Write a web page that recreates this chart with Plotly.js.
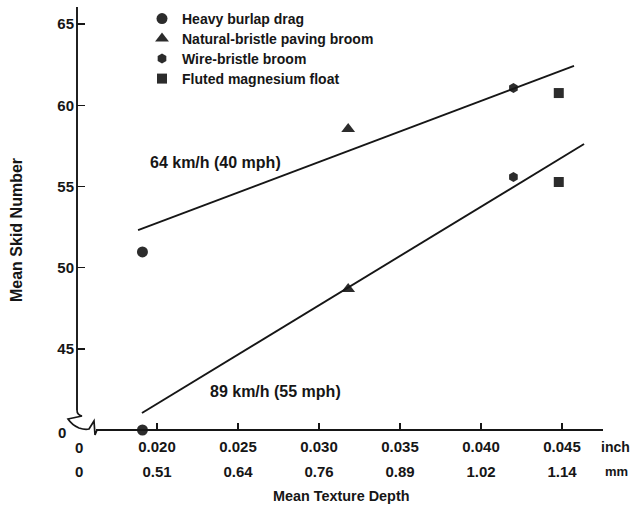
<!DOCTYPE html>
<html>
<head>
<meta charset="utf-8">
<script src="https://cdn.plot.ly/plotly-3.0.1.min.js"></script>
<style>html,body{margin:0;padding:0;background:#fff;}#chart{width:632px;height:510px;}</style>
</head>
<body>
<div id="chart"></div>
<script>
// ---- data ----
const surfaces = ['Heavy burlap drag', 'Natural-bristle paving broom', 'Wire-bristle broom', 'Fluted magnesium float'];
const symbols = ['circle', 'triangle-up', 'hexagon', 'square'];
const depthInch = [0.0191, 0.0318, 0.0420, 0.0448];
const skid64 = [50.97, 58.55, 61.07, 60.76];   // 64 km/h (40 mph)
const skid89 = [40.0, 48.69, 55.59, 55.28];    // 89 km/h (55 mph); 40 = broken-axis "0"
const fit64X = [0.01883, 0.04574], fit64Y = [52.32, 62.43];
const fit89X = [0.01907, 0.04636], fit89Y = [41.05, 57.62];
const inchTicks = [0.020, 0.025, 0.030, 0.035, 0.040, 0.045];
const inchText = ['0.020', '0.025', '0.030', '0.035', '0.040', '0.045'];
const mmText = ['0.51', '0.64', '0.76', '0.89', '1.02', '1.14'];
const skidTicks = [45, 50, 55, 60, 65];
const skidText = ['45', '50', '55', '60', '65'];

const FONT = 'Liberation Sans, Arial, sans-serif';
const INK = '#161616';
const XR = [0.01506, 0.04753], YR = [40, 66];
const M = {l: 77, r: 29, t: 8, b: 10, autoexpand: false};
const W = 632, H = 510;
const plotW = W - M.l - M.r, paperH = H - M.t - M.b;
const yDomBottom = (H - M.b - 430) / paperH;
// pixel -> paper helpers for decorations / placement
function px(p) { return (p - M.l) / plotW; }
function py(p) { return (H - M.b - p) / paperH; }
function path(pts) { return pts.map(p => (p[0] + ' ' + px(p[1]) + ',' + py(p[2]))).join(' '); }

const markerSizes = [11, 12, 10, 10];
const legendRowsPx = [19, 39, 59, 79];
const traces = [];
surfaces.forEach((s, i) => {
  traces.push({
    x: [depthInch[i], depthInch[i]], y: [skid64[i], skid89[i]],
    type: 'scatter', mode: 'markers', name: s, cliponaxis: false,
    legend: i === 0 ? 'legend' : 'legend' + (i + 1),
    marker: {symbol: symbols[i], size: markerSizes[i], color: '#2c2c2c', line: {width: 0}}
  });
});
traces.push({x: fit64X, y: fit64Y, type: 'scatter', mode: 'lines', showlegend: false, line: {color: INK, width: 1.9}, hoverinfo: 'skip'});
traces.push({x: fit89X, y: fit89Y, type: 'scatter', mode: 'lines', showlegend: false, line: {color: INK, width: 1.9}, hoverinfo: 'skip'});
// carrier for the mm tick row
traces.push({x: inchTicks, y: inchTicks.map(() => null), xaxis: 'x2', type: 'scatter', mode: 'markers', showlegend: false, hoverinfo: 'skip'});

const tf = {family: FONT, size: 15, color: INK, weight: 'bold'};
const af = {family: FONT, size: 16, color: INK, weight: 'bold'};
const lf = {family: FONT, size: 14, color: INK, weight: 'bold'};
const layout = {
  width: W, height: H, margin: M, paper_bgcolor: '#fff', plot_bgcolor: '#fff',
  showlegend: true,
  xaxis: {range: XR, anchor: 'y', showline: false, showgrid: false, zeroline: false,
          tickvals: inchTicks, ticktext: inchText, ticks: 'inside', ticklen: 7, tickwidth: 1.6, tickcolor: INK,
          tickfont: tf, ticklabelstandoff: 6},
  xaxis2: {range: XR, overlaying: 'x', anchor: 'free', position: py(460.5), side: 'bottom',
           showline: false, showgrid: false, zeroline: false, tickvals: inchTicks, ticktext: mmText,
           ticks: '', tickfont: tf},
  yaxis: {range: YR, domain: [yDomBottom, 1], showline: false, showgrid: false, zeroline: false,
          tickvals: skidTicks, ticktext: skidText, ticks: 'inside', ticklen: 8, tickwidth: 1.6, tickcolor: INK,
          tickfont: tf, ticklabelstandoff: 2},
  shapes: [
    {type: 'line', xref: 'paper', yref: 'paper', x0: 0, x1: 0, y0: py(410), y1: py(7), line: {color: INK, width: 1.9}},
    {type: 'line', xref: 'paper', yref: 'paper', x0: px(96), x1: px(603), y0: py(430), y1: py(430), line: {color: INK, width: 1.9}},
    {type: 'path', xref: 'paper', yref: 'paper', line: {color: INK, width: 1.7},
     path: path([['M', 77, 410], ['Q', 77, 415], ['', 82, 416], ['L', 68, 419], ['Q', 72, 425], ['', 79, 428],
                 ['Q', 85, 430], ['', 89, 429], ['L', 94, 421], ['L', 95, 435], ['L', 97, 430]])}
  ],
  annotations: [
    {text: '64 km/h (40 mph)', xref: 'paper', yref: 'paper', x: px(148), y: py(162), xanchor: 'left', yanchor: 'middle', showarrow: false, font: af},
    {text: '89 km/h (55 mph)', xref: 'paper', yref: 'paper', x: px(208), y: py(391), xanchor: 'left', yanchor: 'middle', showarrow: false, font: af},
    {text: '0', xref: 'paper', yref: 'paper', x: px(61.5), y: py(432), xanchor: 'center', yanchor: 'middle', showarrow: false, font: tf},
    {text: '0', xref: 'paper', yref: 'paper', x: px(78.5), y: py(447), xanchor: 'center', yanchor: 'middle', showarrow: false, font: tf},
    {text: '0', xref: 'paper', yref: 'paper', x: px(78.5), y: py(471), xanchor: 'center', yanchor: 'middle', showarrow: false, font: tf},
    {text: 'inch', xref: 'paper', yref: 'paper', x: px(632), y: py(447), xanchor: 'right', yanchor: 'middle', showarrow: false, font: lf},
    {text: 'mm', xref: 'paper', yref: 'paper', x: px(603), y: py(471), xanchor: 'left', yanchor: 'middle', showarrow: false,
     font: {family: FONT, size: 13, color: INK, weight: 'bold'}},
    {text: 'Mean Texture Depth', xref: 'paper', yref: 'paper', x: px(341), y: py(496), xanchor: 'center', yanchor: 'middle', showarrow: false,
     font: {family: FONT, size: 14.4, color: INK, weight: 'bold'}},
    {text: 'Mean Skid Number', xref: 'paper', yref: 'paper', x: px(17), y: py(230), textangle: -90, xanchor: 'center', yanchor: 'middle', showarrow: false,
     font: {family: FONT, size: 16, color: INK, weight: 'bold'}}
  ]
};
legendRowsPx.forEach((r, i) => {
  layout[i === 0 ? 'legend' : 'legend' + (i + 1)] = {
    x: px(142), xanchor: 'left', y: py(r), yanchor: 'middle', bgcolor: 'rgba(0,0,0,0)', borderwidth: 0, font: lf
  };
});
Plotly.newPlot('chart', traces, layout, {displayModeBar: false, staticPlot: true});
</script>
</body>
</html>
